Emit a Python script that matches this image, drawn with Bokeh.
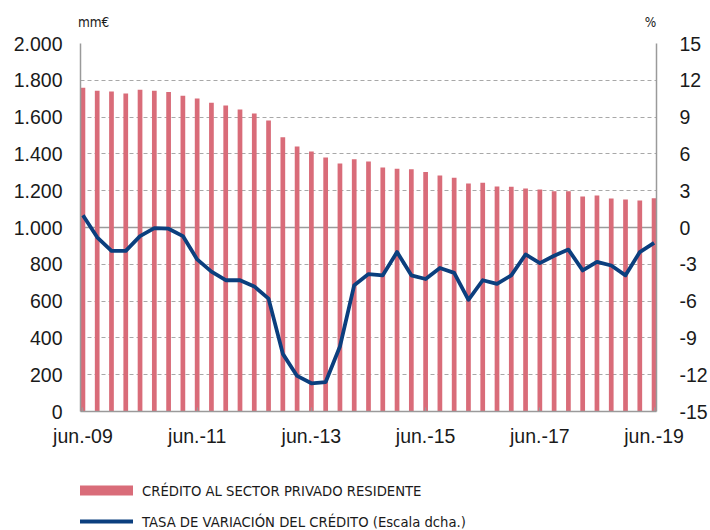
from bokeh.plotting import figure
from bokeh.layouts import column
from bokeh.models import (Range1d, LinearAxis, FixedTicker, Span, Legend,
                          LegendItem, ColumnDataSource)
from bokeh.embed import file_html
from bokeh.resources import INLINE

quarters = ["jun.-09", "sep.-09", "dic.-09",
            "mar.-10", "jun.-10", "sep.-10", "dic.-10",
            "mar.-11", "jun.-11", "sep.-11", "dic.-11",
            "mar.-12", "jun.-12", "sep.-12", "dic.-12",
            "mar.-13", "jun.-13", "sep.-13", "dic.-13",
            "mar.-14", "jun.-14", "sep.-14", "dic.-14",
            "mar.-15", "jun.-15", "sep.-15", "dic.-15",
            "mar.-16", "jun.-16", "sep.-16", "dic.-16",
            "mar.-17", "jun.-17", "sep.-17", "dic.-17",
            "mar.-18", "jun.-18", "sep.-18", "dic.-18",
            "mar.-19", "jun.-19"]

credito = [1759, 1743, 1739, 1728, 1748, 1743, 1737, 1716, 1701, 1678,
           1663, 1641, 1620, 1582, 1491, 1440, 1413, 1380, 1348, 1371,
           1359, 1326, 1319, 1317, 1301, 1283, 1270, 1239, 1243, 1223,
           1221, 1212, 1207, 1197, 1197, 1168, 1174, 1158, 1152, 1147,
           1159]

tasa = [1.0, -0.8, -1.9, -1.9, -0.7, -0.05, -0.1, -0.7, -2.6, -3.6,
        -4.3, -4.3, -4.8, -5.8, -10.3, -12.1, -12.7, -12.6, -9.7, -4.7,
        -3.8, -3.9, -2.0, -3.9, -4.2, -3.3, -3.7, -5.9, -4.3, -4.6,
        -3.9, -2.2, -2.9, -2.3, -1.8, -3.5, -2.8, -3.1, -3.9, -2.0,
        -1.25]

x_tick_labels = ["jun.-09", "jun.-11", "jun.-13", "jun.-15", "jun.-17", "jun.-19"]
left_ticks = [0, 200, 400, 600, 800, 1000, 1200, 1400, 1600, 1800, 2000]
left_tick_labels = ["0", "200", "400", "600", "800", "1.000", "1.200",
                    "1.400", "1.600", "1.800", "2.000"]
right_ticks = [-15, -12, -9, -6, -3, 0, 3, 6, 9, 12, 15]
right_tick_labels = ["-15", "-12", "-9", "-6", "-3", "0", "3", "6", "9", "12", "15"]
unit_left = "mm€"
unit_right = "%"

label_bar = "CRÉDITO AL SECTOR PRIVADO RESIDENTE"
label_line = "TASA DE VARIACIÓN DEL CRÉDITO (Escala dcha.)"

BAR_COLOR = "#d96c79"
LINE_COLOR = "#0b3f7e"
AXIS_COLOR = "#9a9a9a"
GRID_COLOR = "#a8a8a8"
TXT = "#1a1a1a"
FONT = "Liberation Sans"
NARROW = "Liberation Sans Narrow, Arial Narrow, DejaVu Sans Condensed, sans-serif"
TICK_FS = "19.5px"
NAN = float("nan")

xs = list(range(len(quarters)))
src = ColumnDataSource(dict(x=xs, q=quarters, credito=credito, tasa=tasa))

p = figure(width=710, height=460, output_backend="svg", toolbar_location=None,
           x_range=Range1d(-0.17, len(quarters) - 1 + 0.17),
           y_range=Range1d(0, 2000),
           min_border_left=80, min_border_right=50,
           min_border_top=43, min_border_bottom=49)
p.outline_line_color = None
p.background_fill_color = "white"
p.border_fill_color = "white"
p.extra_y_ranges = {"right": Range1d(-15, 15)}

# grid
p.xgrid.grid_line_color = None
p.ygrid.ticker = FixedTicker(ticks=left_ticks)
p.ygrid.grid_line_color = GRID_COLOR
p.ygrid.grid_line_dash = "4 3"
p.ygrid.grid_line_width = 1

zero_right = Span(location=0, dimension="width", y_range_name="right",
                  line_color=AXIS_COLOR, line_width=1.5, level="underlay")
p.add_layout(zero_right)

bars = p.vbar(x="x", top="credito", bottom=0, width=0.33, source=src,
              fill_color=BAR_COLOR, line_color=None)
line = p.line(x="x", y="tasa", source=src, y_range_name="right",
              line_color=LINE_COLOR, line_width=3.8, line_join="round")

# axes
xa = p.xaxis[0]
xa.ticker = FixedTicker(ticks=[quarters.index(t) for t in x_tick_labels])
xa.major_label_overrides = {quarters.index(t): t for t in x_tick_labels}
xa.axis_line_color = AXIS_COLOR
xa.axis_line_width = 1.5
xa.major_tick_line_color = AXIS_COLOR
xa.major_tick_in = 4
xa.major_tick_out = 0
xa.minor_tick_line_color = None
xa.major_label_text_font = FONT
xa.major_label_text_font_size = TICK_FS
xa.major_label_text_color = TXT
xa.major_label_standoff = 13

ya = p.yaxis[0]
ya.ticker = FixedTicker(ticks=left_ticks)
ya.major_label_overrides = {t: l for t, l in zip(left_ticks, left_tick_labels)}
ya.axis_line_color = AXIS_COLOR
ya.axis_line_width = 1.5
ya.major_tick_line_color = None
ya.minor_tick_line_color = None
ya.major_label_text_font = FONT
ya.major_label_text_font_size = TICK_FS
ya.major_label_text_color = TXT
ya.major_label_standoff = 12

ra = LinearAxis(y_range_name="right")
ra.ticker = FixedTicker(ticks=right_ticks)
ra.major_label_overrides = {t: l for t, l in zip(right_ticks, right_tick_labels)}
ra.axis_line_color = AXIS_COLOR
ra.axis_line_width = 1.5
ra.major_tick_line_color = None
ra.minor_tick_line_color = None
ra.major_label_text_font = FONT
ra.major_label_text_font_size = TICK_FS
ra.major_label_text_color = TXT
ra.major_label_standoff = 17
p.add_layout(ra, "right")

# unit captions above the two value axes (an unlined axis on top)
ua = LinearAxis()
ua.ticker = FixedTicker(ticks=[0.75, 39.75])
ua.major_label_overrides = {0.75: unit_left, 39.75: unit_right}
ua.axis_line_color = None
ua.major_tick_line_color = None
ua.minor_tick_line_color = None
ua.major_label_text_font = NARROW
ua.major_label_text_font_size = "13.5px"
ua.major_label_text_color = TXT
ua.major_label_standoff = 8
p.add_layout(ua, "above")

# legend strip below the chart
lg = figure(width=710, height=70, output_backend="svg", toolbar_location=None,
            x_range=Range1d(0, 1), y_range=Range1d(0, 1),
            x_axis_location=None, y_axis_location=None,
            min_border_left=74, min_border_right=50,
            min_border_top=0, min_border_bottom=0)
lg.outline_line_color = None
lg.xgrid.grid_line_color = None
lg.ygrid.grid_line_color = None
# legend swatches (renderers holding a single empty point)
bar_proxy = lg.line(x=[NAN], y=[NAN], line_color=BAR_COLOR, line_width=10)
line_proxy = lg.line(x=[NAN], y=[NAN], line_color=LINE_COLOR, line_width=4)

legend = Legend(items=[LegendItem(label=label_bar, renderers=[bar_proxy]),
                       LegendItem(label=label_line, renderers=[line_proxy])],
                location=(-6, 0), orientation="vertical",
                glyph_width=59, glyph_height=18, label_height=18,
                spacing=13, padding=0, margin=0, label_standoff=9,
                border_line_color=None, background_fill_alpha=0,
                label_text_font=NARROW, label_text_font_size="14.7px",
                label_text_color=TXT)
lg.add_layout(legend, "center")

layout = column(p, lg, spacing=0)
open("out.html", "w").write(file_html(layout, INLINE))
